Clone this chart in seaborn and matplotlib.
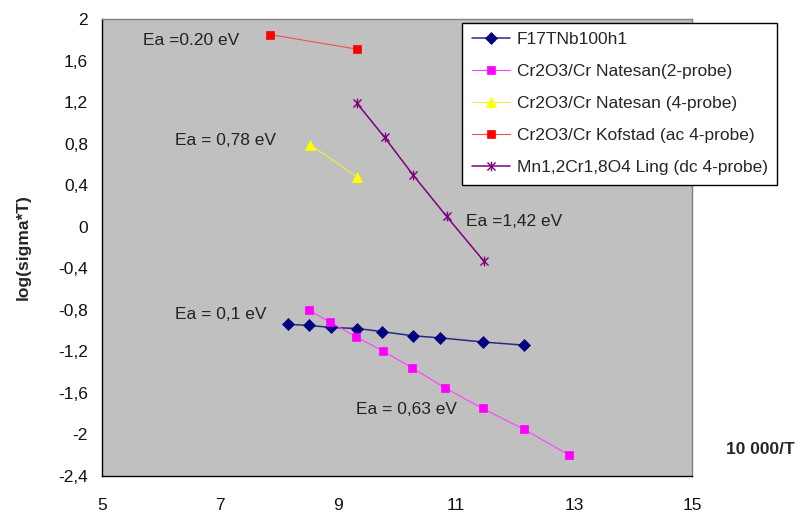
import numpy as np
import pandas as pd
import matplotlib
matplotlib.use("Agg")
import matplotlib.pyplot as plt
from matplotlib.path import Path
import seaborn as sns

# ---- data ----
f17_x = [8.15, 8.51, 8.88, 9.33, 9.75, 10.27, 10.73, 11.46, 12.15]
f17_y = [-0.94, -0.95, -0.97, -0.98, -1.01, -1.05, -1.07, -1.11, -1.14]

nat2_x = [8.50, 8.87, 9.31, 9.77, 10.26, 10.81, 11.45, 12.15, 12.92]
nat2_y = [-0.80, -0.92, -1.06, -1.20, -1.36, -1.55, -1.75, -1.95, -2.20]

nat4_x = [8.53, 9.32]
nat4_y = [0.79, 0.48]

kof_x = [7.85, 9.32]
kof_y = [1.85, 1.71]

ling_x = [9.32, 9.79, 10.27, 10.84, 11.47]
ling_y = [1.19, 0.86, 0.50, 0.10, -0.33]

series_names = [
    "F17TNb100h1",
    "Cr2O3/Cr Natesan(2-probe)",
    "Cr2O3/Cr Natesan (4-probe)",
    "Cr2O3/Cr Kofstad (ac 4-probe)",
    "Mn1,2Cr1,8O4 Ling (dc 4-probe)",
]

x_ticks = [5, 7, 9, 11, 13, 15]
y_ticks = [2, 1.6, 1.2, 0.8, 0.4, 0, -0.4, -0.8, -1.2, -1.6, -2, -2.4]
y_tick_labels = ["2", "1,6", "1,2", "0,8", "0,4", "0", "-0,4", "-0,8",
                 "-1,2", "-1,6", "-2", "-2,4"]

annotations = [
    ("Ea =0.20 eV", 5.69, 1.79),
    ("Ea = 0,78 eV", 6.24, 0.83),
    ("Ea =1,42 eV", 11.17, 0.05),
    ("Ea = 0,1 eV", 6.24, -0.845),
    ("Ea = 0,63 eV", 9.30, -1.76),
]

# ---- style ----
sns.set_style("white")
plt.rcParams["font.family"] = ["Liberation Sans", "DejaVu Sans"]

fig = plt.figure(figsize=(8.06, 5.19), dpi=100)
ax = fig.add_axes([102 / 806, 1 - 476 / 519, (692 - 102) / 806, (476 - 19) / 519])
ax.set_facecolor("#C0C0C0")

# asterisk marker (x plus vertical line)
star_path = Path(
    [(-1, -1), (1, 1), (-1, 1), (1, -1), (0, -1.2), (0, 1.2)],
    [Path.MOVETO, Path.LINETO, Path.MOVETO, Path.LINETO, Path.MOVETO, Path.LINETO],
)

specs = [
    (f17_x, f17_y, "#2a2a80", "D", 6, "#000080", 1.1),
    (nat2_x, nat2_y, "#FF40FF", "s", 5.5, "#FF00FF", 0.8),
    (nat4_x, nat4_y, "#F0F040", "^", 7, "#FFFF00", 0.8),
    (kof_x, kof_y, "#F05050", "s", 6, "#FF0000", 0.8),
    (ling_x, ling_y, "#800080", star_path, 7, "#800080", 1.1),
]

for (xs, ys, col, mk, ms, mcol, lw), name in zip(specs, series_names):
    df = pd.DataFrame({"x": xs, "y": ys})
    sns.lineplot(data=df, x="x", y="y", ax=ax, color=col, marker=mk,
                 markersize=ms, markerfacecolor=mcol, markeredgecolor=mcol,
                 markeredgewidth=1.0 if mk is star_path else 0.5,
                 linewidth=lw, sort=False, estimator=None, label=name)

ax.set_xlim(5, 15)
ax.set_ylim(-2.4, 2)
ax.set_xticks(x_ticks)
ax.set_xticklabels([str(v) for v in x_ticks])
ax.set_yticks(y_ticks)
ax.set_yticklabels(y_tick_labels)
ax.tick_params(axis="both", direction="out", length=6, width=1, color="black",
               labelsize=12.5, labelcolor="#111111")
ax.tick_params(axis="y", pad=4)
ax.tick_params(axis="x", pad=10)
ax.set_xlabel("")
ax.set_ylabel("log(sigma*T)", fontsize=12.5, fontweight="bold", labelpad=20)

for side in ["left", "bottom"]:
    ax.spines[side].set_color("black")
    ax.spines[side].set_linewidth(1.0)
for side in ["top", "right"]:
    ax.spines[side].set_color("#808080")
    ax.spines[side].set_linewidth(1.0)

for txt, tx, ty in annotations:
    ax.text(tx, ty, txt, fontsize=12.5, color="#222222", ha="left", va="center")

fig.text(760 / 806, 1 - 450 / 519, "10 000/T", fontsize=12.5, fontweight="bold",
         ha="center", va="center")

leg = ax.legend(loc="upper left", bbox_to_anchor=(462 / 806, 1 - 22.5 / 519),
                bbox_transform=fig.transFigure, fontsize=12.5, frameon=True,
                fancybox=False, edgecolor="black", facecolor="white",
                framealpha=1, numpoints=1, handlelength=2.2, labelspacing=0.97,
                borderpad=0.55, handletextpad=0.4, borderaxespad=0)
leg.get_frame().set_linewidth(1.0)

fig.savefig("out.png", dpi=100)
